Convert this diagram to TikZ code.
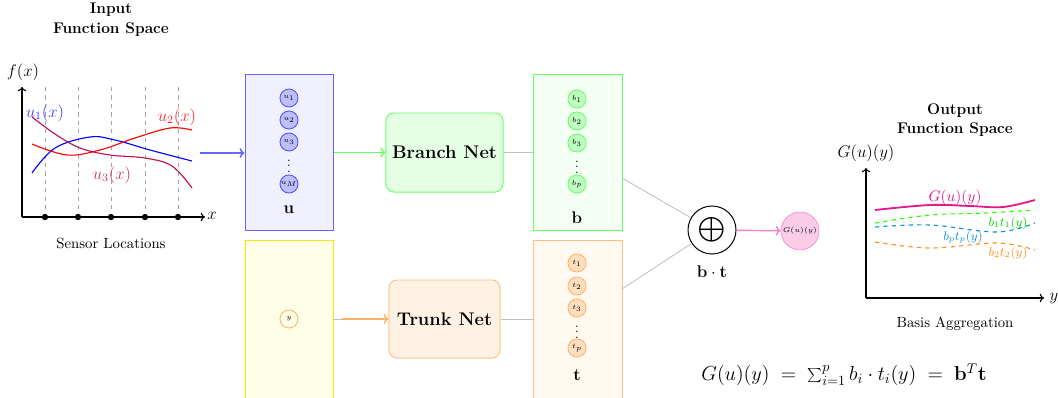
\documentclass[tikz,border=0pt]{standalone}
\usetikzlibrary{arrows.meta}
\definecolor{ucol}{rgb}{0.75,0.05,0.35}
\definecolor{gcol}{rgb}{0.9,0.1,0.55}
\begin{document}
\begin{tikzpicture}[x=0.025cm,y=-0.025cm,
  box/.style={draw,rectangle,inner sep=0pt,line width=0.7pt},
  net/.style={draw,rectangle,rounded corners=0.2cm,inner sep=0pt,line width=0.7pt,font=\fontsize{13}{15}\selectfont\bfseries},
  neuron/.style={circle,draw,inner sep=0pt,minimum size=0.45cm,line width=0.6pt,font=\tiny},
  title/.style={font=\fontsize{11}{14}\selectfont\bfseries,align=center},
  caption/.style={font=\fontsize{10.5}{12}\selectfont},
  lab/.style={font=\fontsize{11.5}{13}\selectfont},
  conn/.style={draw=gray!50,line width=0.6pt},
  axis/.style={line width=0.8pt,-{To[length=3pt,width=6pt]}},
  guide/.style={dashed,gray!70,line width=0.5pt},
  cur/.style={line width=0.8pt},
  tip/.style={-{To[length=3.5pt,width=7pt]},line width=1pt},
  vdot/.style={font=\small,inner sep=0pt}
]
\useasboundingbox (0,0) rectangle (1058,397);

% ---------- Input function space ----------
\node[title] (intitle) at (111,20) {Input\\Function Space};
\coordinate (o1) at (22,217);
\coordinate (ytop1) at (22,87);
\coordinate (xend1) at (205,217);
\foreach \xx/\nm in {45/s1,78/s2,111/s3,145/s4,178/s5}{
  \draw[guide] (\xx,87) -- (\xx,217);
  \node[circle,fill=black,inner sep=0pt,minimum size=4.5pt] (\nm) at (\xx,217) {};
}
\draw[axis] (o1) -- (ytop1);
\draw[axis] (o1) -- (xend1);
\node[lab] (fx) at (23,72) {$f(x)$};
\node[lab] (xl) at (212,216) {$x$};
\draw[cur,blue] plot[smooth,tension=0.6] coordinates {(32,173) (55,148) (90,137) (115,140) (150,150) (192,161)};
\draw[cur,red] plot[smooth,tension=0.6] coordinates {(32,144) (67,155) (100,150) (135,138) (170,128) (192,130)};
\draw[cur,ucol] plot[smooth,tension=0.6] coordinates {(32,117) (55,134) (80,148) (110,155) (145,158) (172,166) (192,188)};
\node[lab,blue!75] (u1l) at (45,113) {$u_1(x)$};
\node[lab,red!85] (u2l) at (177,117) {$u_2(x)$};
\node[lab,ucol!85] (u3l) at (112,175) {$u_3(x)$};
\node[caption] (sensors) at (111,243) {Sensor Locations};

% ---------- Branch side ----------
\node[box,draw=blue!60,fill=blue!6,minimum width=2.2cm,minimum height=3.875cm] (ubox) at (289,152.5) {};
\node[neuron,draw=blue!70,fill=blue!25] (u1) at (289,98) {$u_1$};
\node[neuron,draw=blue!70,fill=blue!25] (u2) at (289,120) {$u_2$};
\node[neuron,draw=blue!70,fill=blue!25] (u3) at (289,142) {$u_3$};
\node[vdot] (udots) at (289,162) {$\vdots$};
\node[neuron,draw=blue!70,fill=blue!25] (uM) at (289,184) {$u_M$};
\node[lab] (ulab) at (289,210) {$\mathbf{u}$};
\coordinate (plotout) at (200,153);
\draw[tip,blue!60] (plotout) -- (ubox.west |- plotout);

\node[net,draw=green!60,fill=green!10,minimum width=2.925cm,minimum height=1.975cm] (branch) at (444.5,152.5) {Branch Net};
\draw[tip,green!60] (ubox.east |- branch) -- (branch.west);

\node[box,draw=green!60,fill=green!5,minimum width=2.225cm,minimum height=3.875cm] (bbox) at (577.5,152.5) {};
\draw[conn] (branch.east) -- (bbox.west |- branch);
\node[neuron,draw=green!60,fill=green!25] (b1) at (577,99) {$b_1$};
\node[neuron,draw=green!60,fill=green!25] (b2) at (577,121) {$b_2$};
\node[neuron,draw=green!60,fill=green!25] (b3) at (577,143) {$b_3$};
\node[vdot] (bdots) at (577,163) {$\vdots$};
\node[neuron,draw=green!60,fill=green!25] (bp) at (577,184) {$b_p$};
\node[lab] (blab) at (577,218) {$\mathbf{b}$};

% ---------- Trunk side ----------
\node[box,draw=yellow!95!black,fill=yellow!10,minimum width=2.2cm,minimum height=3.925cm] (ybox) at (289,319.5) {};
\node[neuron,draw=orange!60,fill=yellow!10] (yn) at (289,319) {$y$};
\node[net,draw=orange!50,fill=orange!10,minimum width=2.775cm,minimum height=1.95cm] (trunk) at (444.5,319) {Trunk Net};
\draw[conn] (ybox.east |- trunk) -- (trunk.west);
\draw[tip,orange!60,shorten <=0.2cm] (ybox.east |- trunk) -- (trunk.west);

\node[box,draw=orange!50,fill=orange!5,minimum width=2.225cm,minimum height=3.925cm] (tbox) at (577.5,319.5) {};
\draw[conn] (trunk.east) -- (tbox.west |- trunk);
\node[neuron,draw=orange!60,fill=orange!25] (t1) at (577,263) {$t_1$};
\node[neuron,draw=orange!60,fill=orange!25] (t2) at (577,286) {$t_2$};
\node[neuron,draw=orange!60,fill=orange!25] (t3) at (577,308) {$t_3$};
\node[vdot] (tdots) at (577,328) {$\vdots$};
\node[neuron,draw=orange!60,fill=orange!25] (tp) at (577,348) {$t_p$};
\node[lab] (tlab) at (577,375) {$\mathbf{t}$};

% ---------- Combination ----------
\node[circle,draw,line width=0.7pt,fill=white,minimum size=1.2cm,inner sep=0pt,font=\large] (sum) at (712,230) {\scalebox{1.25}{$\displaystyle\bigoplus$}};
\coordinate (bout) at (622,178);
\coordinate (tout) at (622,289);
\draw[conn] (bout) -- (sum);
\draw[conn] (tout) -- (sum);
\node[lab] (btlab) at (712,272) {$\mathbf{b}\cdot\mathbf{t}$};
\node[circle,draw=magenta!50,fill=magenta!20,minimum size=0.95cm,inner sep=0pt,font=\tiny] (Gout) at (800,231) {$G(u)(y)$};
\draw[tip,magenta!50] (sum) -- (Gout);

% ---------- Output function space ----------
\node[title] (outtitle) at (955,120) {Output\\Function Space};
\coordinate (o2) at (866,298);
\coordinate (ytop2) at (866,168);
\coordinate (xend2) at (1044,298);
\draw[axis] (o2) -- (ytop2);
\draw[axis] (o2) -- (xend2);
\node[lab] (Gy) at (866,153) {$G(u)(y)$};
\node[lab] (yl) at (1054,298) {$y$};
\draw[gcol,line width=1.3pt] plot[smooth,tension=0.6] coordinates {(875,210) (930,205) (970,206) (1003,207) (1035,200)};
\draw[green!80!lime,dashed,line width=0.8pt] plot[smooth,tension=0.6] coordinates {(875,223) (930,215) (985,213) (1035,210)};
\draw[cyan!80!blue,dashed,line width=0.8pt] plot[smooth,tension=0.6] coordinates {(875,227) (930,225) (997,232) (1035,223)};
\draw[orange!90,dashed,line width=0.8pt] plot[smooth,tension=0.6] coordinates {(875,242) (930,248) (997,243) (1035,250)};
\node[gcol,font=\fontsize{10.5}{12}\selectfont] (Glab) at (955,198) {$G(u)(y)$};
\node[green!80!black,font=\small] (b1t1) at (1008,223) {$b_1t_1(y)$};
\node[cyan!80!blue,font=\small] (bptp) at (963,237) {$b_pt_p(y)$};
\node[orange!90,font=\small] (b2t2) at (1008,253) {$b_2t_2(y)$};
\node[caption] (basis) at (955,324) {Basis Aggregation};

\node[font=\fontsize{13.7}{16}\selectfont] (formula) at (844,375) {$G(u)(y) \;=\; \sum_{i=1}^{p} b_i \cdot t_i(y) \;=\; \mathbf{b}^T\mathbf{t}$};
\end{tikzpicture}
\end{document}
